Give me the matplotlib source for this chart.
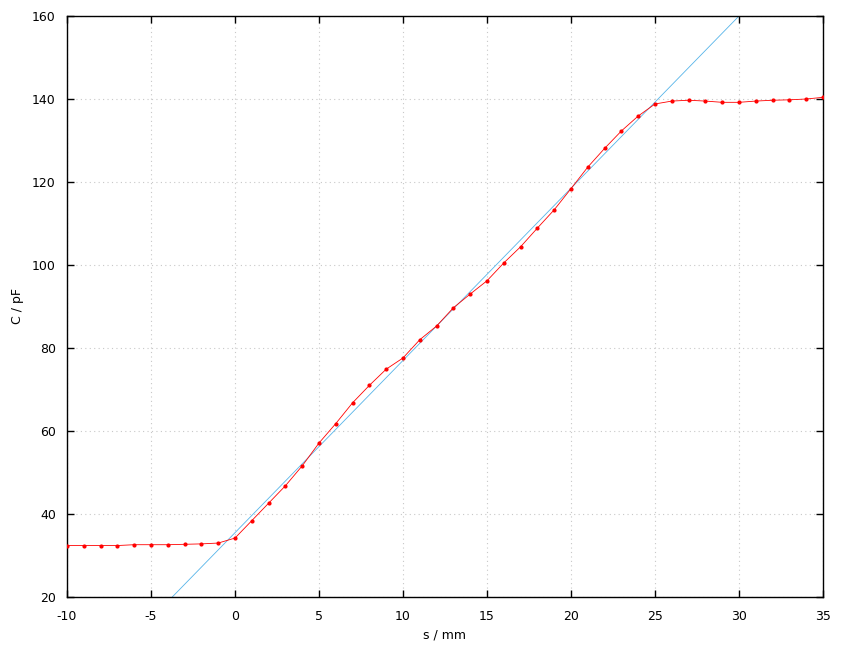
import matplotlib
matplotlib.use('Agg')
import matplotlib.pyplot as plt
import numpy as np

# measured capacitance vs displacement
s = list(range(-10, 36))
C = [32.4, 32.4, 32.4, 32.4, 32.6, 32.6, 32.6, 32.7, 32.8, 33.0,
     34.2, 38.4, 42.6, 46.8, 51.6, 57.1, 61.8, 66.8, 71.0, 74.9,
     77.6, 82.0, 85.3, 89.7, 93.0, 96.2, 100.5, 104.4, 108.9, 113.3,
     118.4, 123.6, 128.1, 132.3, 135.9, 138.8, 139.5, 139.7, 139.5, 139.2,
     139.2, 139.5, 139.7, 139.8, 140.0, 140.4]

# linear fit line
fit_slope = 4.15
fit_offset = 35.5

plt.rcParams['font.family'] = 'DejaVu Sans'
plt.rcParams['axes.unicode_minus'] = False
fig = plt.figure(figsize=(8.54, 6.45), dpi=100)
ax = fig.add_axes([67/854, 1-597/645, (823-67)/854, (597-16)/645])

xf = np.array([-10, 35])
ax.plot(xf, fit_slope*xf + fit_offset, color='#56b4e9', lw=0.6, zorder=2)
ax.plot(s, C, color='red', lw=0.6, marker='o', markersize=2.0, zorder=3)

ax.set_xlim(-10, 35)
ax.set_ylim(20, 160)
ax.set_xticks(range(-10, 36, 5))
ax.set_yticks(range(20, 161, 20))
ax.grid(True, color='#c8c8c8', linestyle=(0, (1, 3)), lw=0.8)
ax.tick_params(direction='in', top=True, right=True, length=5, width=1, labelsize=9)
ax.tick_params(axis='x', pad=9)
ax.tick_params(axis='y', pad=8)
for sp in ax.spines.values():
    sp.set_linewidth(1)
ax.set_xlabel('s / mm', fontsize=9, labelpad=4)
ax.set_ylabel('C / pF', fontsize=9, labelpad=6)

plt.savefig('out.png', dpi=100)
